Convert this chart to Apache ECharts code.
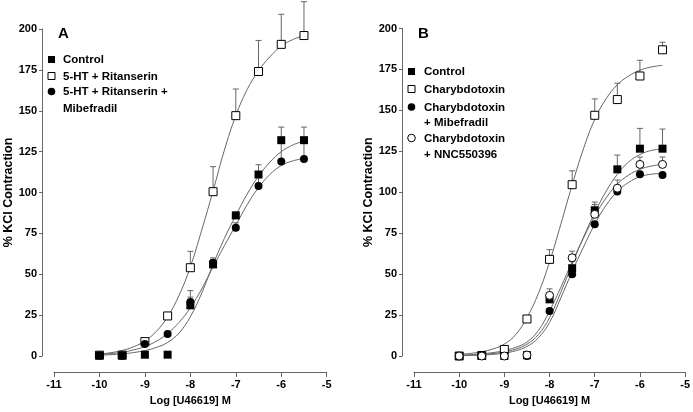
<!DOCTYPE html>
<html>
<head>
<meta charset="utf-8">
<script src="https://cdn.jsdelivr.net/npm/echarts@6/dist/echarts.min.js"></script>
<style>html,body{margin:0;padding:0;background:#fff;}#c{width:693px;height:412px;}</style>
</head>
<body>
<div id="c"></div>
<script>
// ---------- data ----------
const doses = [-10, -9.5, -9, -8.5, -8, -7.5, -7, -6.5, -6, -5.5];
const curveX = [-10, -9.75, -9.5, -9.25, -9, -8.75, -8.5, -8.25, -8, -7.75, -7.5, -7.25, -7, -6.75, -6.5, -6.25, -6, -5.75, -5.5];
const xTicksMin = -11, xTicksMax = -5;
const yTicksMin = 0, yTicksMax = 200, yStep = 25;

// Panel A
const aControl       = [0.3, 0.3, 0.8, 0.8, 31, 56, 86, 111, 132, 132];
const aControlErr    = [0, 0, 0, 0, 9, 4, 2, 6, 8, 8];
const aRit           = [0.5, 0.5, 8.8, 24.5, 54, 100.5, 147, 174, 190.6, 196];
const aRitErr        = [0, 0, 1, 2, 10, 15.3, 16.3, 19, 18.4, 20.7];
const aRitMibe       = [0.3, 0.3, 7.3, 13.5, 33, 57, 78.5, 104, 119, 120.5];
const aRitMibeErr    = [0, 0, 0, 0, 3, 2, 3, 8, 12, 11];
const aControlFit    = [0.5, 0.8, 1.3, 2.1, 3.3, 5.2, 8.3, 14, 24, 38.5, 56, 72, 86, 99, 110, 118.5, 125, 129, 131.5];
const aRitFit        = [1.2, 2.0, 3.4, 5.6, 9.2, 15, 24, 37, 54.5, 77, 101, 126, 147, 163, 174.5, 183, 189.5, 193.5, 196];
const aRitMibeFit    = [0.9, 1.5, 2.3, 3.7, 5.8, 9, 13.8, 20.5, 29.5, 41, 54.5, 67.5, 80, 92.5, 103, 111, 116.5, 119.3, 120.8];

// Panel B
const bControl       = [0, 0, 0, 0.5, 34.6, 53.6, 89, 114, 126.6, 126.6];
const bControlErr    = [0, 0, 0, 0, 3, 4, 5, 8.7, 12.4, 12];
const bChtx          = [0, 0.3, 4, 22.6, 59, 104.6, 147, 156.6, 171, 187];
const bChtxErr       = [0, 0, 1, 1, 6, 8.5, 10, 10, 9.6, 4.6];
const bChtxMibe      = [0, 0, 0, 0, 27.5, 50, 80.5, 100.5, 111, 110.5];
const bChtxMibeErr   = [0, 0, 0, 0, 0, 0, 0, 0, 0, 0];
const bChtxNnc       = [0, 0, 0, 0.6, 37, 60, 86.5, 102.5, 117, 117];
const bChtxNncErr    = [0, 0, 0, 0, 4, 4, 6, 5, 4.5, 4.5];
const bControlFit    = [0.3, 0.5, 0.9, 1.5, 2.5, 4.2, 7.2, 13, 23.5, 39, 56, 72.5, 87.5, 100.5, 111, 118.5, 123, 125.5, 126.5];
const bChtxFit       = [1.0, 1.6, 2.6, 4.3, 7.3, 13, 23.5, 38, 57.5, 80.5, 104.5, 126.5, 144.5, 157, 165.7, 171, 174.5, 176.5, 177.5];
const bChtxMibeFit   = [0.2, 0.35, 0.6, 1.0, 1.8, 3.2, 5.8, 11, 20.5, 35.5, 51.5, 66.5, 80.5, 92, 100.5, 106, 109.5, 111, 111.5];
const bChtxNncFit    = [0.5, 0.8, 1.3, 2.1, 3.3, 5.3, 8.5, 15.5, 27.5, 42, 57.5, 72, 85.5, 96.5, 105, 110.5, 114, 116, 117];

const legendA = ['Control', '5-HT + Ritanserin', '5-HT + Ritanserin +', 'Mibefradil'];
const legendB = ['Control', 'Charybdotoxin', 'Charybdotoxin', '+ Mibefradil', 'Charybdotoxin', '+ NNC550396'];
const xName = 'Log [U46619] M';
const yName = '% KCl Contraction';

// ---------- chart ----------
const FONT = '"Liberation Sans", Arial, sans-serif';
const GREY = '#666';
const chart = echarts.init(document.getElementById('c'), null, {renderer: 'canvas'});

function pts(xs, ys) { return xs.map((x, i) => [x, ys[i]]); }
function errPts(xs, ys, es) { return xs.map((x, i) => [x, ys[i], es[i]]); }

function errSeries(k, ys, es, z) {
  return {
    type: 'custom', xAxisIndex: k, yAxisIndex: k, z: z, clip: false,
    data: errPts(doses, ys, es),
    renderItem: function (params, api) {
      const x = api.value(0), y = api.value(1), e = api.value(2);
      if (!e) return null;
      const p0 = api.coord([x, y]);
      const p1 = api.coord([x, y + e]);
      const st = {stroke: GREY, lineWidth: 1};
      return {type: 'group', children: [
        {type: 'line', shape: {x1: p0[0], y1: p0[1], x2: p1[0], y2: p1[1]}, style: st},
        {type: 'line', shape: {x1: p1[0] - 3, y1: p1[1], x2: p1[0] + 3, y2: p1[1]}, style: st}
      ]};
    }
  };
}
function fitSeries(k, ys) {
  return {type: 'line', xAxisIndex: k, yAxisIndex: k, z: 1, smooth: 0.4, showSymbol: false, symbol: 'none',
    lineStyle: {color: GREY, width: 1}, data: pts(curveX, ys), silent: true};
}
function ptSeries(k, ys, sym, filled, z) {
  return {type: 'scatter', xAxisIndex: k, yAxisIndex: k, z: z, symbol: sym, symbolSize: 8,
    itemStyle: {color: filled ? '#000' : '#fff', borderColor: '#000', borderWidth: filled ? 0 : 1, opacity: 1},
    data: pts(doses, ys)};
}

function xAxisDef(k) {
  return {type: 'value', gridIndex: k, min: xTicksMin, max: xTicksMax, interval: 1, offset: 16,
    name: xName, nameLocation: 'middle', nameGap: 23,
    nameTextStyle: {fontFamily: FONT, fontWeight: 'bold', fontSize: 11, color: '#000'},
    axisLine: {show: true, onZero: false, lineStyle: {color: GREY, width: 1}},
    axisTick: {show: true, length: 5, lineStyle: {color: GREY}},
    axisLabel: {fontFamily: FONT, fontWeight: 'bold', fontSize: 11, color: '#000', margin: 7},
    splitLine: {show: false}};
}
function yAxisDef(k) {
  return {type: 'value', gridIndex: k, min: yTicksMin, max: yTicksMax, interval: yStep, offset: 12,
    name: yName, nameLocation: 'middle', nameGap: 27,
    nameTextStyle: {fontFamily: FONT, fontWeight: 'bold', fontSize: 12.5, color: '#000'},
    axisLine: {show: true, onZero: false, lineStyle: {color: GREY, width: 1}},
    axisTick: {show: true, length: 3, lineStyle: {color: GREY}},
    axisLabel: {fontFamily: FONT, fontWeight: 'bold', fontSize: 11, color: '#000', margin: 5},
    splitLine: {show: false}};
}

function txt(x, y, s, size) {
  return {type: 'text', x: x, y: y, silent: true,
    style: {text: s, font: 'bold ' + (size || 11.5) + 'px ' + FONT, fill: '#000',
      textAlign: 'left', textVerticalAlign: 'middle', align: 'left', verticalAlign: 'middle'}};
}
function sq(cx, cy, filled) {
  return {type: 'rect', silent: true, shape: {x: cx - 3.5, y: cy - 3.5, width: 7, height: 7},
    style: {fill: filled ? '#000' : '#fff', stroke: filled ? null : '#000', lineWidth: 1}};
}
function circ(cx, cy, filled) {
  return {type: 'circle', silent: true, shape: {cx: cx, cy: cy, r: 3.8},
    style: {fill: filled ? '#000' : '#fff', stroke: filled ? null : '#000', lineWidth: 1}};
}

const graphics = [
  txt(58, 34, 'A', 15),
  sq(51.5, 59.5, true), txt(63, 60, legendA[0]),
  sq(51.5, 76, false), txt(63, 76.5, legendA[1]),
  circ(51.5, 91.5, true), txt(63, 92, legendA[2]),
  txt(63, 108.5, legendA[3]),

  txt(418, 34, 'B', 15),
  sq(411.5, 71.5, true), txt(424, 72, legendB[0]),
  sq(411.5, 89, false), txt(424, 89.5, legendB[1]),
  circ(411.5, 107, true), txt(424, 107.5, legendB[2]),
  txt(424, 122.5, legendB[3]),
  circ(411.5, 138, false), txt(424, 138.5, legendB[4]),
  txt(424, 154.5, legendB[5])
];

const option = {
  animation: false,
  backgroundColor: '#fff',
  grid: [
    {left: 54, right: 366.3, top: 29, bottom: 56, containLabel: false},
    {left: 414, right: 7.3, top: 28.5, bottom: 56, containLabel: false}
  ],
  xAxis: [xAxisDef(0), xAxisDef(1)],
  yAxis: [yAxisDef(0), yAxisDef(1)],
  graphic: graphics,
  series: [
    fitSeries(0, aRitFit), fitSeries(0, aControlFit), fitSeries(0, aRitMibeFit),
    errSeries(0, aRit, aRitErr, 2), errSeries(0, aRitMibe, aRitMibeErr, 2), errSeries(0, aControl, aControlErr, 2),
    ptSeries(0, aRit, 'rect', false, 3), ptSeries(0, aRitMibe, 'circle', true, 4), ptSeries(0, aControl, 'rect', true, 5),

    fitSeries(1, bChtxFit), fitSeries(1, bControlFit), fitSeries(1, bChtxMibeFit), fitSeries(1, bChtxNncFit),
    errSeries(1, bChtx, bChtxErr, 2), errSeries(1, bChtxMibe, bChtxMibeErr, 2), errSeries(1, bControl, bControlErr, 2), errSeries(1, bChtxNnc, bChtxNncErr, 2),
    ptSeries(1, bChtx, 'rect', false, 3), ptSeries(1, bChtxMibe, 'circle', true, 4), ptSeries(1, bControl, 'rect', true, 5), ptSeries(1, bChtxNnc, 'circle', false, 6)
  ]
};
chart.setOption(option);
</script>
</body>
</html>
